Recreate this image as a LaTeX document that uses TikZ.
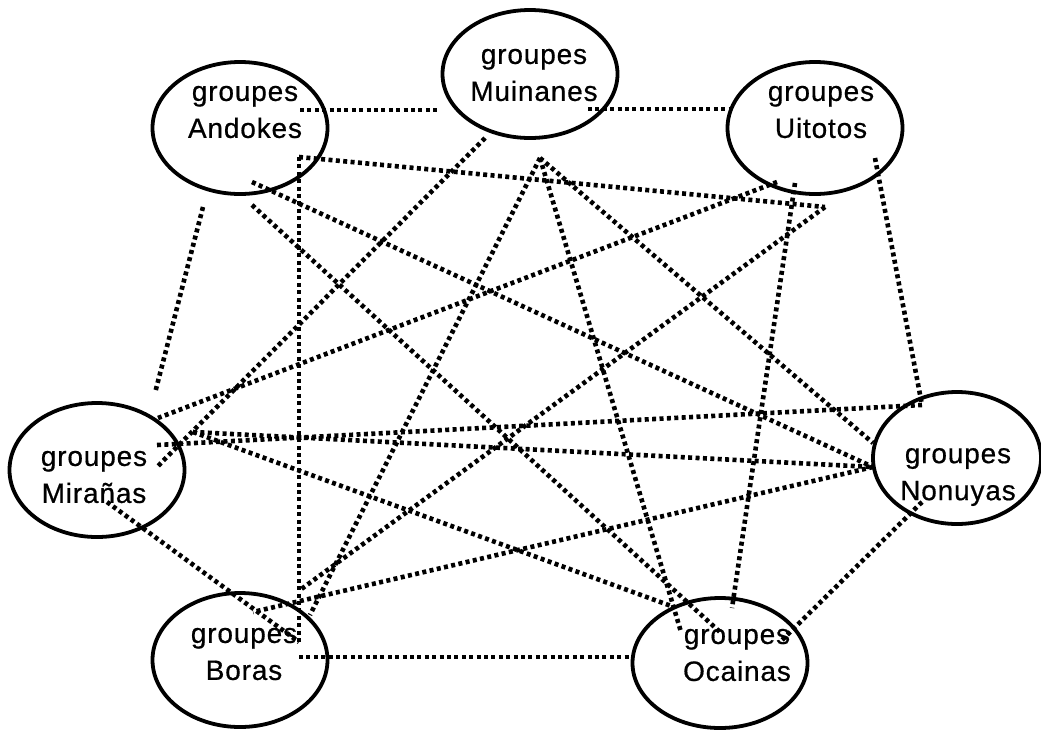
\documentclass[tikz,border=0pt]{standalone}
\usepackage{fontspec}
\usetikzlibrary{shapes.geometric}
\newfontfamily\grpfont{Liberation Sans}[LetterSpace=3,FakeBold=0.6]
\begin{document}
\begin{tikzpicture}[x=1pt,y=-1pt,line join=round,
	grp/.style={draw,ellipse,line width=3.8pt,minimum width=175pt,minimum height=132pt,inner sep=0pt},
	txt/.style={align=center,font=\grpfont\fontsize{28}{37}\selectfont,inner sep=0pt},
	lien/.style={line width=4.6pt,dash pattern=on 4pt off 3.4pt}]
	\useasboundingbox (0,0) rectangle (1041,729);
	% Les groupes
	\node[grp,label={[txt,xshift=5pt,yshift=16pt]center:{groupes\\Andokes}}] (and) at (240,128) {};
	\node[grp,minimum height=128pt,label={[txt,xshift=4pt,yshift=-1pt]center:{groupes\\Muinanes}}] (mui) at (530,74) {};
	\node[grp,label={[txt,xshift=6pt,yshift=16pt]center:{groupes\\Uitotos}}] (uit) at (815,128) {};
	\node[grp,minimum height=134pt,label={[txt,xshift=-3pt,yshift=-7pt]center:{groupes\\Mirañas}}] (mir) at (97,470) {};
	\node[grp,minimum width=168pt,label={[txt,xshift=1pt,yshift=-19pt]center:{groupes\\Nonuyas}}] (non) at (957,458) {};
	\node[grp,minimum height=134pt,label={[txt,xshift=4pt,yshift=6pt]center:{groupes\\Boras}}] (bor) at (240,660) {};
	\node[grp,minimum height=130pt,label={[txt,xshift=17pt,yshift=8pt]center:{groupes\\Ocainas}}] (oca) at (720,663) {};
	% Extrémités des liens
	\coordinate (a1) at (300,110);
	\coordinate (a2) at (299,157);
	\coordinate (a3) at (252,182);
	\coordinate (a4) at (252,205);
	\coordinate (a5) at (203,207);
	\coordinate (m1) at (440,110);
	\coordinate (m2) at (588,109);
	\coordinate (m3) at (485,138);
	\coordinate (m4) at (540,158);
	\coordinate (u1) at (730,109);
	\coordinate (u2) at (777,182);
	\coordinate (u3) at (825,207);
	\coordinate (u4) at (795,183);
	\coordinate (u5) at (875,158);
	\coordinate (r1) at (155,393);
	\coordinate (r2) at (158,418);
	\coordinate (r3) at (157,467);
	\coordinate (r4) at (193,432);
	\coordinate (r5) at (157,445);
	\coordinate (r6) at (107,502);
	\coordinate (n1) at (922,405);
	\coordinate (n2) at (873,443);
	\coordinate (n3) at (873,467);
	\coordinate (n4) at (922,502);
	\coordinate (b1) at (299,642);
	\coordinate (b2) at (310,615);
	\coordinate (b3) at (300,590);
	\coordinate (b4) at (253,612);
	\coordinate (b5) at (299,657);
	\coordinate (o1) at (681,632);
	\coordinate (o2) at (720,632);
	\coordinate (o3) at (732,608);
	\coordinate (o4) at (674,607);
	\coordinate (o5) at (780,642);
	\coordinate (o6) at (633,657);
	% Les liens
	\foreach \p/\q in {a1/m1,m2/u1,b5/o6,a2/b1,a2/u3,a3/n3,a4/o2,a5/r1,
		m3/r3,m4/b2,m4/o1,m4/n2,u2/r2,u4/o3,u5/n1,u3/b3,
		r4/n3,r4/o4,r5/n1,r6/b1,n3/b4,n4/o5}
		\draw[lien] (\p) -- (\q);
\end{tikzpicture}
\end{document}
